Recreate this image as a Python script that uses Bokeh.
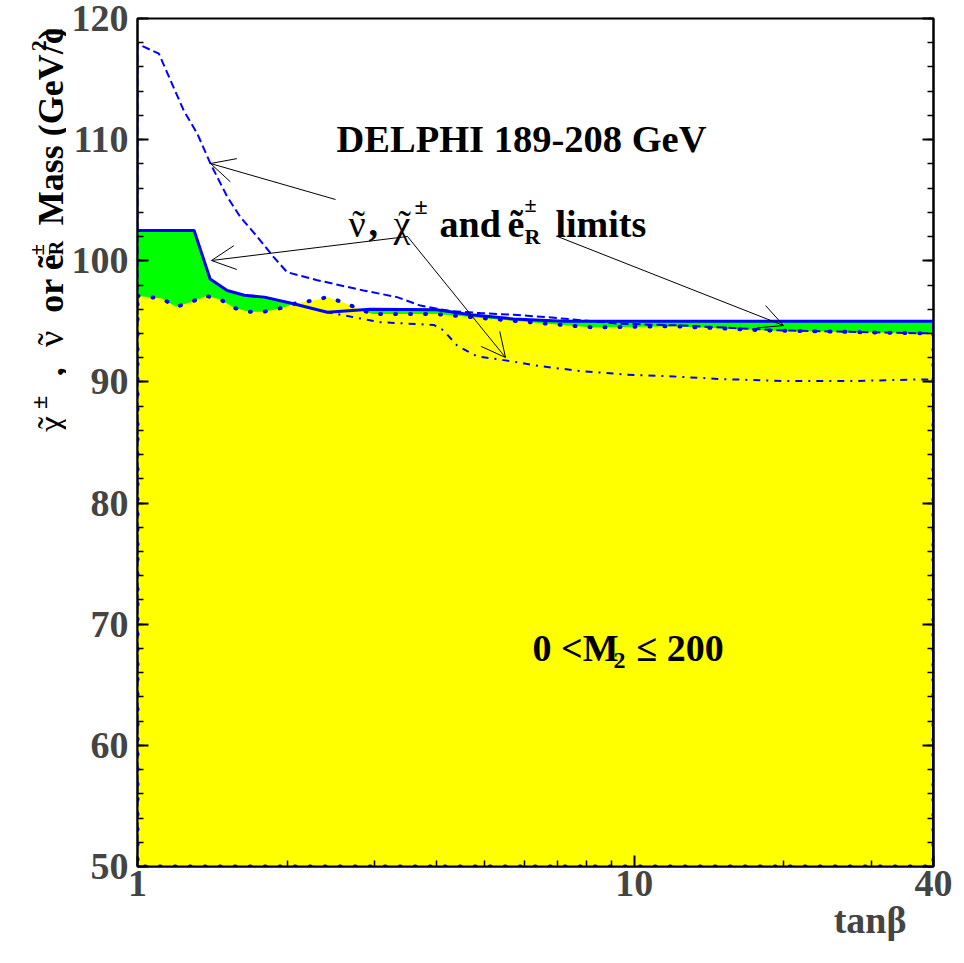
import math
from bokeh.plotting import figure
from bokeh.layouts import row
from bokeh.models import (Range1d, FixedTicker, SingleIntervalTicker, LinearAxis,
                          Label, Arrow, OpenHead, CustomJSTickFormatter, Title)
from bokeh.core.properties import value
from bokeh.embed import file_html
from bokeh.resources import INLINE

# ---------------- data ----------------
# combined limit (solid blue, upper edge of green region)
solid_tb = [1.0, 1.30, 1.40, 1.515, 1.64, 1.80, 2.06, 2.41, 2.94, 4.0, 4.68, 5.71, 7.2, 40.0]
solid_m = [102.5, 102.5, 98.5, 97.55, 97.15, 97.0, 96.45, 95.75, 96.0, 95.95, 95.55, 95.2, 95.0, 95.0]

# chargino limit (dotted blue, upper edge of yellow region)
yellow_tb = [1.0, 1.117, 1.196, 1.282, 1.375, 1.469, 1.567, 1.68, 1.80, 1.946, 2.086, 2.246,
             2.41, 2.58, 2.77, 2.97, 4.0, 4.97, 6.17, 7.17, 8.27, 12.0, 18.5, 40.0]
yellow_m = [97.1, 96.9, 96.2, 96.6, 97.1, 96.8, 96.1, 95.8, 95.8, 96.1, 96.5, 96.7,
            97.0, 96.6, 96.1, 95.6, 95.6, 95.26, 94.93, 94.7, 94.5, 94.6, 94.25, 94.0]

# sneutrino limit (dashed blue)
snu_tb = [1.0, 1.104, 1.165, 1.239, 1.319, 1.403, 1.515, 1.611, 1.741, 1.88, 2.0, 2.30,
          2.85, 3.33, 3.71, 4.26, 4.90, 5.71, 6.67, 7.54, 9.37, 12.4, 19.9, 40.0]
snu_m = [117.9, 117.1, 114.9, 112.4, 110.5, 108.0, 105.3, 103.6, 102.0, 100.3, 99.06, 98.4,
         97.55, 97.0, 96.3, 95.85, 95.68, 95.54, 95.35, 95.15, 94.8, 94.66, 94.25, 94.0]

# selectron limit (dash-dotted blue)
sel_tb = [1.80, 2.06, 2.41, 3.08, 3.95, 4.13, 4.40, 4.83, 5.46, 6.47, 7.79, 9.67, 12.0,
          14.7, 19.95, 27.2, 37.0, 40.0]
sel_m = [97.0, 96.45, 95.75, 94.93, 94.7, 94.25, 93.0, 92.1, 91.8, 91.3, 90.9, 90.6, 90.45,
         90.25, 90.07, 90.07, 90.2, 90.2]

X_MIN, X_MAX = 1.0, 40.0
Y_MIN, Y_MAX = 50.0, 120.0
x_major = [1, 10, 40]
x_minor = [2, 3, 4, 5, 6, 7, 8, 9, 20, 30]
x_labels = ["1", "10", "40"]

# ---------------- layout ----------------
W, H = 960, 960
LW = 66                               # width of the strip holding the y title
FL, FR, FT, FB = 137, 933, 18, 866    # frame edges in page px

BLUE = "#0000ff"
FONT = "Liberation Serif"

p = figure(width=W - LW, height=H, x_axis_type="log",
           x_range=Range1d(X_MIN, X_MAX), y_range=Range1d(Y_MIN, Y_MAX),
           output_backend="svg", toolbar_location=None,
           min_border_left=FL - LW, min_border_right=W - FR,
           min_border_top=FT, min_border_bottom=H - FB)
p.xgrid.visible = False
p.ygrid.visible = False
p.outline_line_color = "black"
p.outline_line_width = 2
p.background_fill_color = "white"
p.border_fill_color = "white"


def page(px, py):
    """convert page-pixel position to data coordinates (for annotations)"""
    lx = (px - FL) / (FR - FL) * (math.log10(X_MAX) - math.log10(X_MIN)) + math.log10(X_MIN)
    y = Y_MAX - (py - FT) / (FB - FT) * (Y_MAX - Y_MIN)
    return 10 ** lx, y


# fills
p.varea(x=solid_tb, y1=[Y_MIN] * len(solid_tb), y2=solid_m, fill_color="#00ff00")
p.varea(x=yellow_tb, y1=[Y_MIN] * len(yellow_tb), y2=yellow_m, fill_color="#ffff00")

# lines
p.line(sel_tb, sel_m, line_color=BLUE, line_width=2, line_dash="7 6 2 6")
p.line([X_MIN] + snu_tb, [Y_MIN] + snu_m, line_color=BLUE, line_width=2, line_dash="8 4")
p.line(yellow_tb + [X_MAX, X_MIN, X_MIN], yellow_m + [Y_MIN, Y_MIN, yellow_m[0]],
       line_color=BLUE, line_width=4, line_dash="1 14", line_cap="round")
p.line(solid_tb + [X_MAX], solid_m + [Y_MIN], line_color=BLUE, line_width=3)

# axes
p.yaxis[0].ticker = SingleIntervalTicker(interval=10, num_minor_ticks=5)
p.xaxis[0].ticker = FixedTicker(ticks=x_major, minor_ticks=x_minor)
p.xaxis[0].major_label_overrides = {t: l for t, l in zip(x_major, x_labels)}

for ax in (p.xaxis[0], p.yaxis[0]):
    ax.axis_line_width = 2
    ax.major_tick_in = 11
    ax.major_tick_out = 0
    ax.minor_tick_in = 6
    ax.minor_tick_out = 0
    ax.major_tick_line_width = 2
    ax.minor_tick_line_width = 1.5
    ax.major_label_text_font = FONT
    ax.major_label_text_font_style = "bold"
    ax.major_label_text_font_size = "38px"
p.yaxis.major_label_standoff = 9
p.xaxis.major_label_standoff = 4

ra = LinearAxis(ticker=SingleIntervalTicker(interval=10, num_minor_ticks=5),
                formatter=CustomJSTickFormatter(code="return ''"),
                axis_line_width=2, major_tick_in=11, major_tick_out=0,
                minor_tick_in=6, minor_tick_out=0, major_tick_line_width=2,
                minor_tick_line_width=1.5, major_label_standoff=0)
p.add_layout(ra, "right")

p.add_layout(Title(text="tanβ", align="right", offset=27, standoff=0,
                   text_font=FONT, text_font_style="bold", text_font_size="38px",
                   vertical_align="top"), "below")


def lab(text, px, py, size=38, bold=True, align="left"):
    x, y = page(px, py)
    p.add_layout(Label(x=x, y=y, text=text, text_font=FONT,
                       text_font_style="bold" if bold else "normal",
                       text_font_size=f"{size}px", text_align=align,
                       text_baseline="alphabetic", text_color="black"))


# texts in the plot
lab("DELPHI 189-208 GeV", 521, 138, size=38.5, align="center")
lab("ν", 348, 223, bold=False)
lab("˜", 358, 223, bold=False, align="center")
lab(",", 368, 223)
lab("χ", 393, 223, bold=False)
lab("˜", 404, 223, bold=False, align="center")
lab("±", 414, 205, size=24)
lab("and", 439, 223)
lab("ẽ", 507, 223)
lab("±", 524, 204, size=22)
lab("R", 524, 236, size=22)
lab("limits", 555, 223)

lab("0 <M", 532, 647)
lab("2", 613, 660, size=24)
lab("≤ 200", 636, 647)

# arrows
for (tx, ty), (hx, hy) in [((335, 199), (210, 163)), ((407, 236), (211, 260)),
                           ((407, 236), (505, 357)), ((557, 236), (783, 325))]:
    xs, ys = page(tx, ty)
    xe, ye = page(hx, hy)
    p.add_layout(Arrow(x_start=xs, y_start=ys, x_end=xe, y_end=ye, line_width=1,
                       line_color="black",
                       end=OpenHead(size=24, line_width=1, line_color="black")))

# ---------------- strip with the rotated y title ----------------
q = figure(width=LW, height=H, x_range=Range1d(0, LW), y_range=Range1d(0, H),
           output_backend="svg", toolbar_location=None,
           x_axis_location=None, y_axis_location=None,
           min_border_left=0, min_border_right=0, min_border_top=0, min_border_bottom=0)
q.xgrid.visible = False
q.ygrid.visible = False
q.outline_line_color = None
q.background_fill_color = "white"
q.border_fill_color = "white"

# (text, baseline x, start y, size, bold, align)
ytitle = [
    ("χ", 50, 468, 36, False, "left"),
    ("˜", 50, 458, 36, False, "center"),
    ("±", 38, 442, 24, True, "left"),
    (",", 50, 405, 36, True, "left"),
    ("ν", 50, 372, 36, False, "left"),
    ("˜", 50, 363, 36, False, "center"),
    ("or", 50, 333, 36, True, "left"),
    ("ẽ", 50, 285, 36, True, "left"),
    ("R", 55, 268, 20, True, "left"),
    ("±", 36, 268, 20, True, "left"),
    ("Mass (GeV/c", 50, 234, 36, True, "left"),
    ("2", 38, 37, 22, True, "left"),
    (")", 50, 24, 36, True, "left"),
]
for t, bx, sy, sz, bd, al in ytitle:
    q.text(x=[bx], y=[H - sy], text=[t], angle=90, angle_units="deg",
           text_font=value(FONT), text_font_style="bold" if bd else "normal",
           text_font_size=f"{sz}px", text_align=al, text_baseline="alphabetic",
           text_color="black")

layout = row(q, p, spacing=0)
open("out.html", "w").write(file_html(layout, INLINE))
